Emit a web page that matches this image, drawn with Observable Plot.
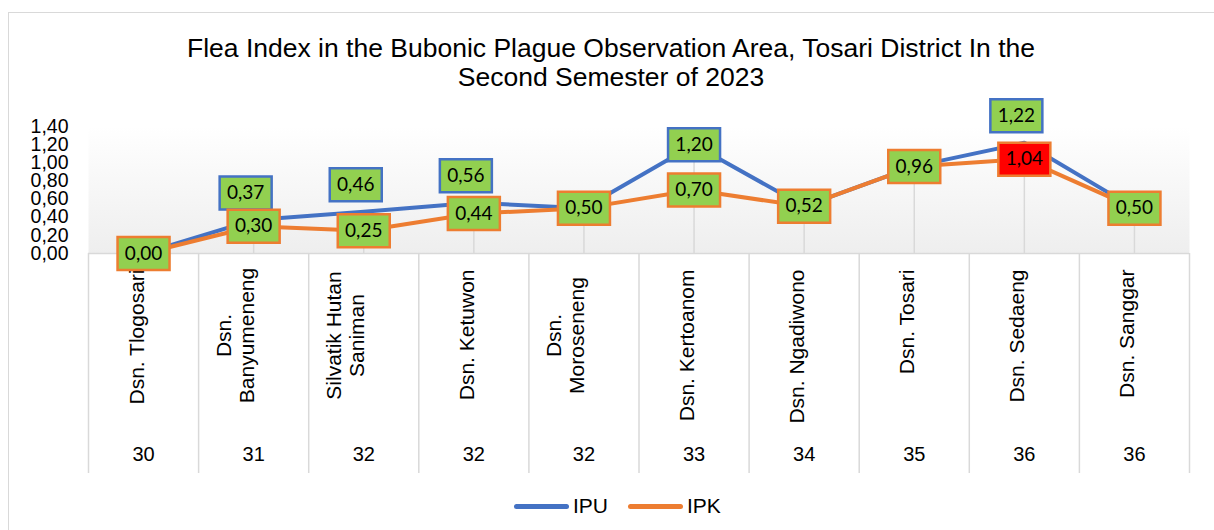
<!DOCTYPE html>
<html>
<head>
<meta charset="utf-8">
<script src="https://cdn.jsdelivr.net/npm/d3@7"></script>
<script src="https://cdn.jsdelivr.net/npm/@observablehq/plot@0.6"></script>
<style>
html, body { margin: 0; padding: 0; background: #fff; }
#wrap { position: relative; width: 1214px; height: 530px; overflow: hidden; font-family: "Liberation Sans", Arial, sans-serif; color: #000; }
#border { position: absolute; left: 8px; top: 12px; width: 1400px; height: 800px; border: 1.5px solid #d9d9d9; box-sizing: border-box; }
#title { position: absolute; left: 8px; right: 0; top: 34px; text-align: center; font-size: 26.5px; line-height: 28.5px; }
#chart { position: absolute; left: 0; top: 100px; }
#legend { position: absolute; left: 514px; top: 494px; height: 24px; display: flex; align-items: center; font-size: 21px; }
.sw { display: inline-block; width: 55px; height: 5px; border-radius: 3px; margin-right: 4px; }
</style>
</head>
<body>
<div id="wrap">
  <div id="border"></div>
  <div id="title">Flea Index in the Bubonic Plague Observation Area, Tosari District In the<br>Second Semester of 2023</div>
  <div id="chart"></div>
  <div id="legend"></div>
</div>
<script>
// ---- data ----
const categories = [
  "Dsn. Tlogosari",
  "Dsn.\nBanyumeneng",
  "Silvatik Hutan\nSaniman",
  "Dsn. Ketuwon",
  "Dsn.\nMoroseneng",
  "Dsn. Kertoanom",
  "Dsn. Ngadiwono",
  "Dsn. Tosari",
  "Dsn. Sedaeng",
  "Dsn. Sanggar"
];
const weeks = [30, 31, 32, 32, 32, 33, 34, 35, 36, 36];
const ipu = [0.00, 0.37, 0.46, 0.56, 0.50, 1.20, 0.52, 0.96, 1.22, 0.50];
const ipk = [0.00, 0.30, 0.25, 0.44, 0.50, 0.70, 0.52, 0.96, 1.04, 0.50];
const yTicks = [0, 0.2, 0.4, 0.6, 0.8, 1.0, 1.2, 1.4];
const seriesNames = ["IPU", "IPK"];
const ipkThreshold = 1;
const centeredIpuLabels = ["Dsn. Kertoanom"];

// ---- styles ----
const BLUE = "#4472c4", ORANGE = "#ed7d31", GREEN = "#92d050", RED = "#ff0000", GRID = "#d9d9d9";
const seriesColors = [BLUE, ORANGE];

const rows = categories.map((c, i) => ({ i, label: c, week: weeks[i], ipu: ipu[i], ipk: ipk[i] }));
const fmt = v => v.toFixed(2).replace(".", ",");
const box = { draw(ctx) { ctx.rect(-26, -16.5, 52, 33); } };
const boundaries = d3.range(categories.length + 1).map(k => k - 0.5);
const ipuOnly = rows.filter(d => d.ipu !== d.ipk);
const ipuAbove = ipuOnly.filter(d => !centeredIpuLabels.includes(d.label));
const ipuCenter = ipuOnly.filter(d => centeredIpuLabels.includes(d.label));
const single = rows.filter(d => !d.label.includes("\n"));
const multi = rows.filter(d => d.label.includes("\n"));

const defs = () => {
  const g = d3.create("svg:defs");
  const lg = g.append("linearGradient").attr("id", "plotBg")
    .attr("x1", 0).attr("y1", 0).attr("x2", 0).attr("y2", 1);
  lg.append("stop").attr("offset", "0%").attr("stop-color", "#ffffff");
  lg.append("stop").attr("offset", "100%").attr("stop-color", "#eeeeee");
  return g.node();
};

const labelFont = "Lato, 'Liberation Sans', sans-serif";

const chart = Plot.plot({
  width: 1214,
  height: 390,
  marginLeft: 88,
  marginRight: 25,
  marginTop: 26,
  marginBottom: 237,
  style: { fontFamily: "'Liberation Sans', Arial, sans-serif", fontSize: "20px", color: "#000", background: "transparent", overflow: "visible" },
  x: { type: "linear", domain: [-0.5, categories.length - 0.5] },
  y: { domain: [0, 1.4] },
  color: { type: "identity" },
  marks: [
    defs,
    Plot.frame({ fill: "url(#plotBg)", stroke: "none" }),
    // drop lines from the highest point of each category down to the axis
    Plot.ruleX(rows, { x: "i", y1: 0, y2: d => Math.max(d.ipu, d.ipk), stroke: GRID, strokeWidth: 1.5 }),
    Plot.axisX({ ticks: boundaries, tickSize: 220, tickFormat: () => "", stroke: GRID, strokeWidth: 1.5, label: null }),
    Plot.axisY({ ticks: yTicks, tickSize: 0, tickPadding: 20, tickFormat: fmt, fontSize: 19.5, label: null }),
    Plot.ruleY([0], { stroke: GRID, strokeWidth: 1.5 }),
    Plot.text(single, { x: "i", text: "label", frameAnchor: "bottom", rotate: -90, textAnchor: "end", dy: 16, fontSize: 21 }),
    Plot.text(multi, { x: "i", text: "label", frameAnchor: "bottom", rotate: -90, textAnchor: "middle", dy: 82, fontSize: 21, lineHeight: 1.1 }),
    Plot.text(rows, { x: "i", text: d => String(d.week), frameAnchor: "bottom", dy: 207, fontSize: 20 }),
    Plot.line(rows, { x: "i", y: "ipu", stroke: BLUE, strokeWidth: 4, strokeLinejoin: "round" }),
    Plot.line(rows, { x: "i", y: "ipk", stroke: ORANGE, strokeWidth: 4, strokeLinejoin: "round" }),
    Plot.dot(ipuAbove, { x: "i", y: "ipu", symbol: box, fill: GREEN, stroke: BLUE, strokeWidth: 2.5, dx: -8, dy: -27 }),
    Plot.text(ipuAbove, { x: "i", y: "ipu", text: d => fmt(d.ipu), dx: -8, dy: -27, fontSize: 19, fontFamily: labelFont }),
    Plot.dot(ipuCenter, { x: "i", y: "ipu", symbol: box, fill: GREEN, stroke: BLUE, strokeWidth: 2.5 }),
    Plot.text(ipuCenter, { x: "i", y: "ipu", text: d => fmt(d.ipu), fontSize: 19, fontFamily: labelFont }),
    Plot.dot(rows, { x: "i", y: "ipk", symbol: box, fill: d => d.ipk >= ipkThreshold ? RED : GREEN, stroke: ORANGE, strokeWidth: 2.5 }),
    Plot.text(rows, { x: "i", y: "ipk", text: d => fmt(d.ipk), fontSize: 19, fontFamily: labelFont })
  ]
});
document.getElementById("chart").appendChild(chart);

const legend = document.getElementById("legend");
seriesNames.forEach((name, k) => {
  const sw = document.createElement("span");
  sw.className = "sw";
  sw.style.background = seriesColors[k];
  if (k > 0) sw.style.marginLeft = "20px";
  const t = document.createElement("span");
  t.textContent = name;
  legend.appendChild(sw);
  legend.appendChild(t);
});
</script>
</body>
</html>
